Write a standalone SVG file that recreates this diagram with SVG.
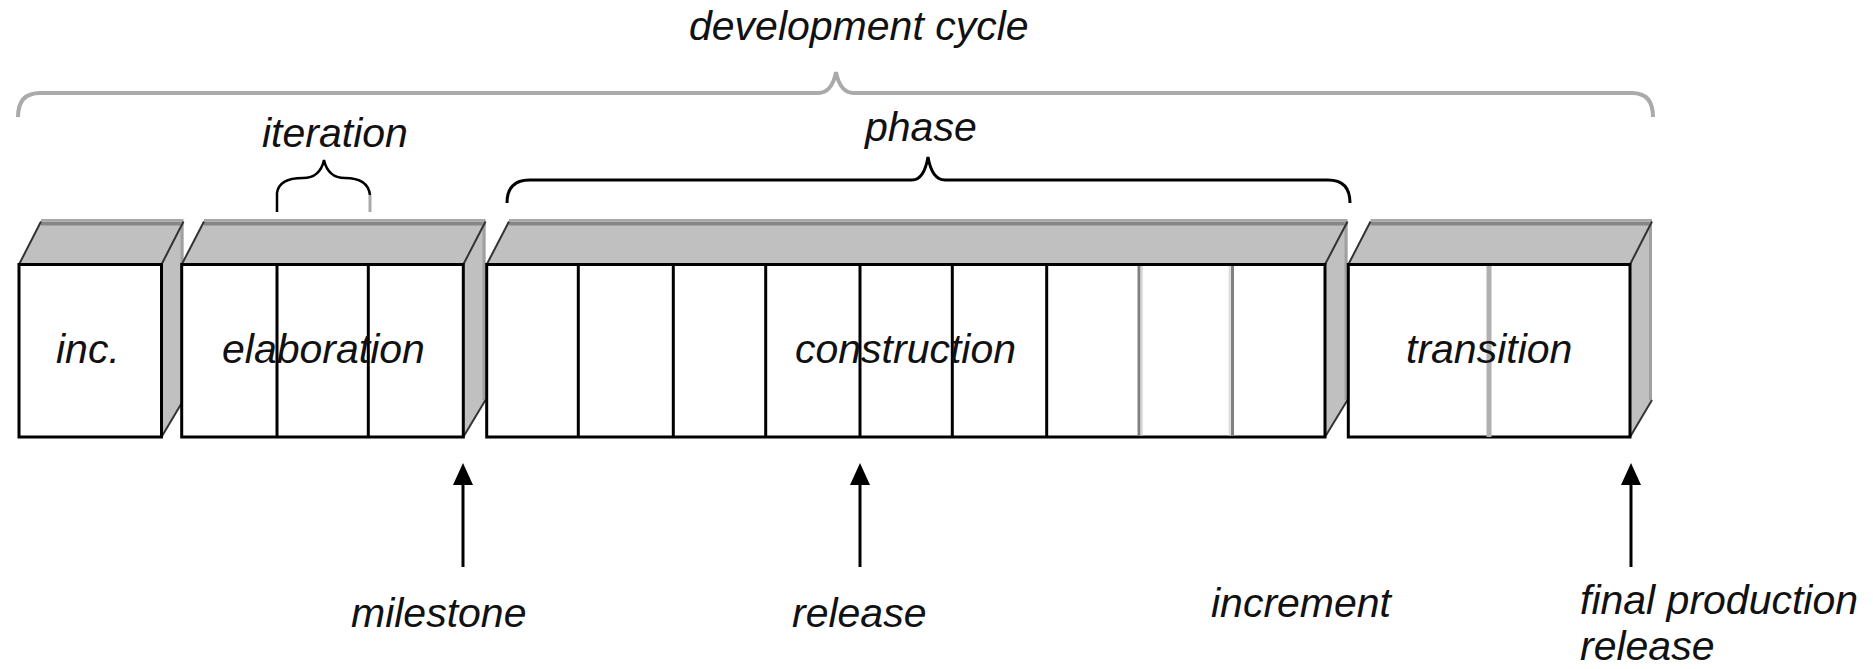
<svg xmlns="http://www.w3.org/2000/svg" width="1873" height="669" viewBox="0 0 1873 669">
<style>
text{font-family:"Liberation Sans",Arial,sans-serif;font-style:italic;font-size:41px;fill:#111}
.top{fill:#c0c0c0;stroke:none}
.side{fill:#c0c0c0;stroke:none}
.edgeD{stroke:#868686;stroke-width:4}
.edgeL{stroke:#a8a8a8;stroke-width:2}
.diag{stroke:#333;stroke-width:2;fill:none}
.sideEdge{stroke:#a0a0a0;stroke-width:3}
.front{fill:#fff;stroke:#000;stroke-width:3}
.div{stroke:#000;stroke-width:3}
.gdk{stroke:#808080;stroke-width:3}
.glt{stroke:#d8d8d8;stroke-width:2}
.gmid{stroke:#b0b0b0;stroke-width:5}
.brace{fill:none;stroke:#000;stroke-width:3}
.braceG{fill:none;stroke:#aaaaaa;stroke-width:4}
.arrow{stroke:#000;stroke-width:3;marker-end:url(#ah)}
</style>
<defs>
<marker id="ah" markerUnits="userSpaceOnUse" markerWidth="24" markerHeight="22" refX="0" refY="10" orient="auto" viewBox="0 0 24 22">
<path d="M0,0 L22,10 L0,20 Z" fill="#000"/>
</marker>
</defs>

<g id="devcycle">
<path class="braceG" d="M18,117 Q18,93 40,93 L818,93 Q832,93 836,72 Q840,93 854,93 L1632,93 Q1653,93 1653,117"/>
<text x="689" y="40">development cycle</text>
</g>

<g id="iteration">
<path class="brace" d="M277,212 L277,193 Q279,178 303,178 Q320,178 324,160 Q328,178 345,178 Q368,178 370,195" style="stroke-width:2.5"/>
<line x1="370" y1="195" x2="370" y2="212" stroke="#aaaaaa" stroke-width="3"/>
<text x="262" y="147">iteration</text>
</g>

<g id="phase">
<path class="brace" d="M507,203 Q507,180 530,180 L912,180 Q924,180 928,157 Q932,180 945,180 L1328,180 Q1350,180 1350,203"/>
<text x="865" y="141">phase</text>
</g>

<g id="inc">
<polygon class="top" points="19,264.5 41,221.5 183.5,221.5 161.5,264.5"/>
<polygon class="side" points="161.5,264.5 183.5,221.5 183.5,400 161.5,437"/>
<line class="edgeL" x1="41" y1="220" x2="183.5" y2="220"/>
<line class="edgeD" x1="41" y1="223.5" x2="183.5" y2="223.5"/>
<line class="sideEdge" x1="182" y1="221.5" x2="182" y2="400"/>
<line class="diag" x1="19" y1="264.5" x2="41" y2="221.5"/>
<line class="diag" x1="161.5" y1="264.5" x2="183.5" y2="221.5"/>
<line class="diag" x1="161.5" y1="437" x2="183.5" y2="400"/>
<rect class="front" x="19" y="264.5" width="142.5" height="172.5"/>
<text x="56" y="363">inc.</text>
</g>

<g id="elaboration">
<polygon class="top" points="181.7,264.5 204,221.5 485.5,221.5 463.3,264.5"/>
<polygon class="side" points="463.3,264.5 485.5,221.5 485.5,400 463.3,437"/>
<line class="edgeL" x1="204" y1="220" x2="485.5" y2="220"/>
<line class="edgeD" x1="204" y1="223.5" x2="485.5" y2="223.5"/>
<line class="sideEdge" x1="484" y1="221.5" x2="484" y2="400"/>
<line class="diag" x1="181.7" y1="264.5" x2="204" y2="221.5"/>
<line class="diag" x1="463.3" y1="264.5" x2="485.5" y2="221.5"/>
<line class="diag" x1="463.3" y1="437" x2="485.5" y2="400"/>
<rect class="front" x="181.7" y="264.5" width="281.6" height="172.5"/>
<line class="div" x1="277" y1="264.5" x2="277" y2="437"/>
<line class="div" x1="368.3" y1="264.5" x2="368.3" y2="437"/>
<text x="222" y="363">elaboration</text>
</g>

<g id="construction">
<polygon class="top" points="486.7,264.5 509,221.5 1347.5,221.5 1325,264.5"/>
<polygon class="side" points="1325,264.5 1347.5,221.5 1347.5,400 1325,437"/>
<line class="edgeL" x1="509" y1="220" x2="1347.5" y2="220"/>
<line class="edgeD" x1="509" y1="223.5" x2="1347.5" y2="223.5"/>
<line class="sideEdge" x1="1346" y1="221.5" x2="1346" y2="400"/>
<line class="diag" x1="486.7" y1="264.5" x2="509" y2="221.5"/>
<line class="diag" x1="1325" y1="264.5" x2="1347.5" y2="221.5"/>
<line class="diag" x1="1325" y1="437" x2="1347.5" y2="400"/>
<rect class="front" x="486.7" y="264.5" width="838.3" height="172.5"/>
<line class="div" x1="578.3" y1="264.5" x2="578.3" y2="437"/>
<line class="div" x1="673.3" y1="264.5" x2="673.3" y2="437"/>
<line class="div" x1="765.7" y1="264.5" x2="765.7" y2="437"/>
<line class="div" x1="860" y1="264.5" x2="860" y2="437"/>
<line class="div" x1="952.3" y1="264.5" x2="952.3" y2="437"/>
<line class="div" x1="1046.7" y1="264.5" x2="1046.7" y2="437"/>
<line class="gdk" x1="1139" y1="266" x2="1139" y2="435.5"/>
<line class="glt" x1="1141.8" y1="266" x2="1141.8" y2="435.5"/>
<line class="glt" x1="1229.7" y1="266" x2="1229.7" y2="435.5"/>
<line class="gdk" x1="1232.5" y1="266" x2="1232.5" y2="435.5"/>
<text x="795" y="363">construction</text>
</g>

<g id="transition">
<polygon class="top" points="1348.3,264.5 1370.5,221.5 1652,221.5 1630,264.5"/>
<polygon class="side" points="1630,264.5 1652,221.5 1652,400 1630,437"/>
<line class="edgeL" x1="1370.5" y1="220" x2="1652" y2="220"/>
<line class="edgeD" x1="1370.5" y1="223.5" x2="1652" y2="223.5"/>
<line class="sideEdge" x1="1650.5" y1="221.5" x2="1650.5" y2="400"/>
<line class="diag" x1="1348.3" y1="264.5" x2="1370.5" y2="221.5"/>
<line class="diag" x1="1630" y1="264.5" x2="1652" y2="221.5"/>
<line class="diag" x1="1630" y1="437" x2="1652" y2="400"/>
<rect class="front" x="1348.3" y="264.5" width="281.7" height="172.5"/>
<line class="gmid" x1="1489" y1="266" x2="1489" y2="437"/>
<text x="1406" y="363">transition</text>
</g>

<g id="connectors">
<line class="arrow" x1="463" y1="567" x2="463" y2="485"/>
<line class="arrow" x1="860" y1="567" x2="860" y2="485"/>
<line class="arrow" x1="1631" y1="567" x2="1631" y2="485"/>
</g>

<g id="labels">
<text x="351" y="627">milestone</text>
<text x="792" y="627">release</text>
<text x="1211" y="617">increment</text>
<text x="1580" y="614">final production</text>
<text x="1580" y="660">release</text>
</g>
</svg>
